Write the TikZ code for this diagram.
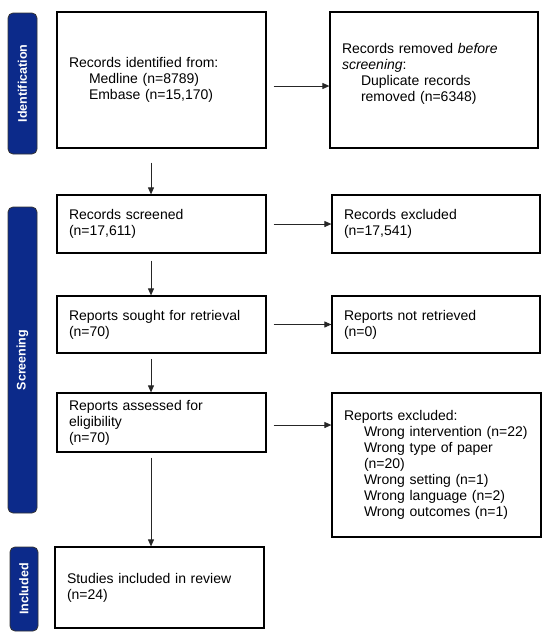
\documentclass[tikz,border=0pt]{standalone}
\usepackage{fontspec}
\setmainfont{Liberation Sans}
\usetikzlibrary{arrows.meta}
\definecolor{navy}{RGB}{12,42,138}
\begin{document}
\begin{tikzpicture}[x=1pt,y=-1pt,
  box/.style={draw=black, line width=1.2pt, fill=white, align=left, inner xsep=12pt,
    font=\fontsize{14}{16}\selectfont},
  side/.style={draw=black!80, line width=0.8pt, fill=navy, rounded corners=5pt, rotate=90,
    text=white, font=\fontsize{12.5}{15}\selectfont\bfseries, inner sep=0pt},
  arr/.style={draw=black!85, line width=0.9pt, -{Triangle[length=7pt,width=6pt]}}]
\useasboundingbox (0,0) rectangle (550,638);
% sidebars
\node[side, minimum width=141pt, minimum height=29pt] (s1) at (22.5,83.5) {Identification};
\node[side, minimum width=306pt, minimum height=29pt] (s2) at (22.5,360) {Screening};
\node[side, minimum width=84pt, minimum height=28pt] (s3) at (24,589) {Included};
% boxes
\node[box, minimum width=209pt, minimum height=136pt, text width=185pt] (b1) at (161.5,80)
  {Records identified from:\\ \hspace*{20pt}Medline (n=8789)\\ \hspace*{20pt}Embase (n=15,170)};
\node[box, minimum width=208pt, minimum height=136pt, text width=184pt] (b2) at (434,80)
  {Records removed \textit{before}\\ \textit{screening}:\\ \hspace*{19pt}Duplicate records\\ \hspace*{19pt}removed (n=6348)\\ \mbox{}};
\node[box, minimum width=209pt, minimum height=58pt, text width=185pt] (b3) at (161.5,224)
  {Records screened\\ (n=17,611)};
\node[box, minimum width=208pt, minimum height=58pt, text width=184pt] (b4) at (436,224)
  {Records excluded\\ (n=17,541)};
\node[box, minimum width=209pt, minimum height=57pt, text width=185pt] (b5) at (161.5,324.5)
  {Reports sought for retrieval\\ (n=70)};
\node[box, minimum width=208pt, minimum height=57pt, text width=184pt] (b6) at (436,324.5)
  {Reports not retrieved\\ (n=0)};
\node[box, minimum width=209pt, minimum height=59pt, text width=185pt] (b7) at (161.5,422.5)
  {Reports assessed for\\ eligibility\\ (n=70)};
\node[box, minimum width=209pt, minimum height=144pt, text width=185pt] (b8) at (436.5,465)
  {Reports excluded:\\
   \hspace*{20pt}Wrong intervention (n=22)\\
   \hspace*{20pt}Wrong type of paper\\
   \hspace*{20pt}(n=20)\\
   \hspace*{20pt}Wrong setting (n=1)\\
   \hspace*{20pt}Wrong language (n=2)\\
   \hspace*{20pt}Wrong outcomes (n=1)};
\node[box, minimum width=209pt, minimum height=81pt, text width=185pt] (b9) at (159.5,587.5)
  {Studies included in review\\ (n=24)};
% vertical arrows
\draw[arr] ([xshift=-10.5pt,yshift=-14pt]b1.south) -- ([xshift=-10.5pt]b3.north);
\draw[arr] ([xshift=-10.5pt,yshift=-7pt]b3.south) -- ([xshift=-10.5pt]b5.north);
\draw[arr] ([xshift=-10.5pt,yshift=-5pt]b5.south) -- ([xshift=-10.5pt]b7.north);
\draw[arr] ([xshift=-10.5pt,yshift=-5pt]b7.south) -- ([xshift=-8.5pt]b9.north);
% horizontal arrows
\draw[arr] ([xshift=7pt,yshift=-6pt]b1.east) -- ([yshift=-6pt]b2.west);
\draw[arr] ([xshift=7pt]b3.east) -- (b4.west);
\draw[arr] ([xshift=7pt]b5.east) -- (b6.west);
\coordinate (h4) at ([xshift=7pt,yshift=-2.5pt]b7.east);
\draw[arr] (h4) -- (h4 -| b8.west);
\end{tikzpicture}
\end{document}
